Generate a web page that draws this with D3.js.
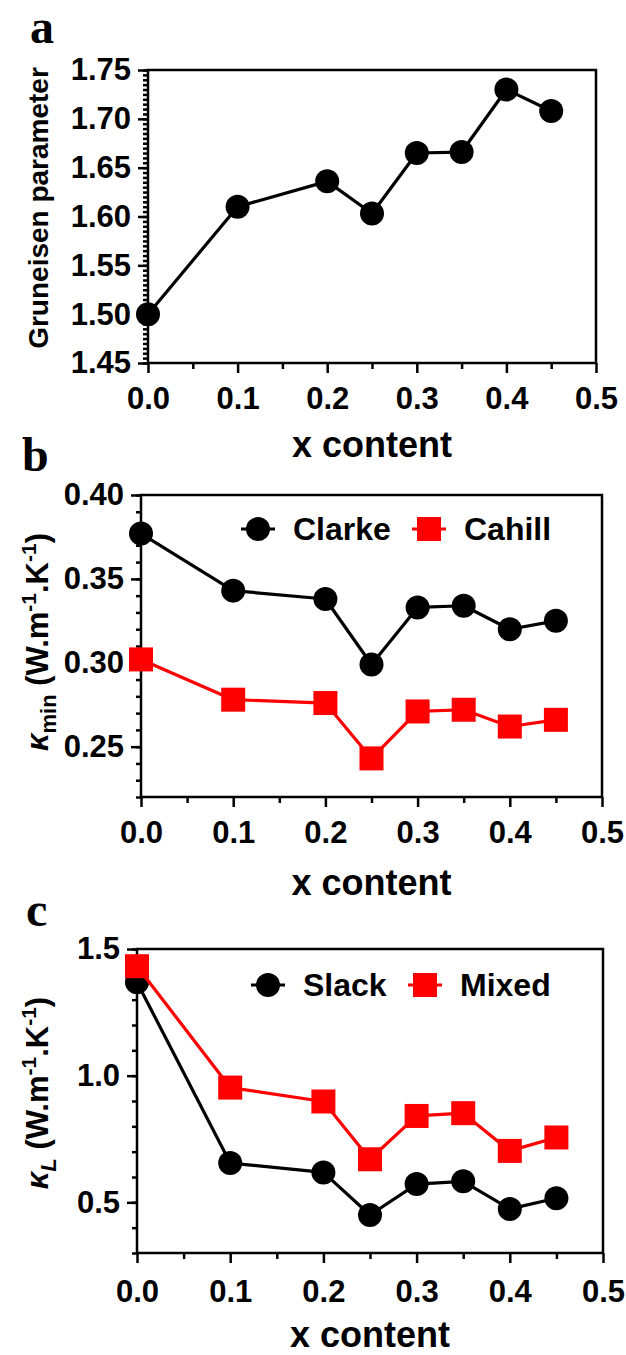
<!DOCTYPE html>
<html>
<head>
<meta charset="utf-8">
<script src="https://cdnjs.cloudflare.com/ajax/libs/d3/7.8.5/d3.min.js"></script>
<style>
  body { margin: 0; background: #fff; }
  text { font-family: "Liberation Sans", Arial, sans-serif; font-weight: bold; fill: #000; }
</style>
</head>
<body>
<script>
// values
const xContent = [0, 0.1, 0.2, 0.25, 0.3, 0.35, 0.4, 0.45];
const gruneisen = [1.500, 1.610, 1.636, 1.603, 1.665, 1.666, 1.730, 1.708];
const clarke = [0.377, 0.343, 0.338, 0.299, 0.333, 0.334, 0.320, 0.325];
const cahill = [0.302, 0.278, 0.276, 0.243, 0.271, 0.272, 0.262, 0.266];
const slack = [1.369, 0.655, 0.618, 0.450, 0.572, 0.583, 0.474, 0.516];
const mixed = [1.432, 0.953, 0.898, 0.670, 0.841, 0.852, 0.703, 0.756];

const xTicks = [0, 0.1, 0.2, 0.3, 0.4, 0.5];
const xMinorTicks = [0.05, 0.15, 0.25, 0.35, 0.45];
const yTicksA = [1.45, 1.50, 1.55, 1.60, 1.65, 1.70, 1.75];
const yTicksB = [0.25, 0.30, 0.35, 0.40];
const yTicksC = [0.5, 1.0, 1.5];

const W = 626, H = 1355;
const svg = d3.select("body").append("svg")
    .attr("width", W).attr("height", H);

// minor tick positions between lo and hi
function steps(lo, hi, step) {
    const n = Math.round((hi - lo) / step);
    return d3.range(n + 1).map(i => +(lo + i * step).toFixed(4));
}

const panels = [
    {
        letter: "a", letterX: 30, letterY: 43,
        L: 148, R: 596, T: 70, B: 363,
        yDomain: [1.45, 1.75], yTicks: yTicksA, yMinor: steps(1.45, 1.75, 0.005), fmt: ".2f",
        series: [{ name: "", values: gruneisen, color: "#000", shape: "circle" }],
        legend: null,
        xLabelY: 409, xTitleY: 457,
        yTitle: "gruneisen", yTitleX: 48, yTitleY: 208
    },
    {
        letter: "b", letterX: 22, letterY: 471,
        L: 141, R: 602, T: 495, B: 797,
        yDomain: [0.22, 0.40], yTicks: yTicksB, yMinor: steps(0.22, 0.40, 0.01), fmt: ".2f",
        series: [
            { name: "Clarke", values: clarke, color: "#000", shape: "circle" },
            { name: "Cahill", values: cahill, color: "#ff0000", shape: "square" }
        ],
        legend: { y: 529, items: [258, 429] },
        xLabelY: 843, xTitleY: 895,
        yTitle: "kmin", yTitleX: 48, yTitleY: 642
    },
    {
        letter: "c", letterX: 26, letterY: 926,
        L: 137, R: 603, T: 949, B: 1253,
        yDomain: [0.3, 1.5], yTicks: yTicksC, yMinor: steps(0.3, 1.5, 0.1), fmt: ".1f",
        series: [
            { name: "Slack", values: slack, color: "#000", shape: "circle" },
            { name: "Mixed", values: mixed, color: "#ff0000", shape: "square" }
        ],
        legend: { y: 985, items: [268, 425] },
        xLabelY: 1302, xTitleY: 1347,
        yTitle: "kL", yTitleX: 48, yTitleY: 1093
    }
];

const R_DOT = 12, SQ = 24;

function marker(g, shape, color, cx, cy) {
    if (shape === "circle") {
        g.append("circle").attr("cx", cx).attr("cy", cy).attr("r", R_DOT).attr("fill", color);
    } else {
        g.append("rect").attr("x", cx - SQ / 2).attr("y", cy - SQ / 2)
            .attr("width", SQ).attr("height", SQ).attr("fill", color);
    }
}

panels.forEach(p => {
    const g = svg.append("g");
    const x = d3.scaleLinear().domain([0, 0.5]).range([p.L, p.R]);
    const y = d3.scaleLinear().domain(p.yDomain).range([p.B, p.T]);

    // panel letter
    g.append("text").attr("x", p.letterX).attr("y", p.letterY)
        .style("font-family", "'Liberation Serif', 'Times New Roman', serif")
        .style("font-size", "48px")
        .text(p.letter);

    // minor ticks
    g.append("g").attr("transform", `translate(${p.L},0)`)
        .call(d3.axisLeft(y).tickValues(p.yMinor).tickSize(5).tickSizeOuter(0).tickFormat(""))
        .call(a => a.select(".domain").remove());
    g.append("g").attr("transform", `translate(0,${p.B})`)
        .call(d3.axisBottom(x).tickValues(xMinorTicks).tickSize(6).tickSizeOuter(0).tickFormat(""))
        .call(a => a.select(".domain").remove());

    // major ticks + labels
    const ya = g.append("g").attr("transform", `translate(${p.L},0)`)
        .call(d3.axisLeft(y).tickValues(p.yTicks).tickSize(10).tickSizeOuter(0)
            .tickPadding(7).tickFormat(d3.format(p.fmt)));
    ya.select(".domain").remove();
    ya.selectAll("text").style("font-size", "31px").style("font-family", null);

    const xa = g.append("g").attr("transform", `translate(0,${p.B})`)
        .call(d3.axisBottom(x).tickValues(xTicks).tickSize(10).tickSizeOuter(0)
            .tickFormat(d3.format(".1f")));
    xa.select(".domain").remove();
    xa.selectAll("text").style("font-size", "31px").style("font-family", null)
        .attr("dy", null).attr("y", p.xLabelY - p.B);

    g.selectAll(".tick line").attr("stroke", "#000").attr("stroke-width", 2.5);

    // frame
    g.append("path")
        .attr("d", `M${p.L},${p.T}H${p.R}V${p.B}H${p.L}Z`)
        .attr("fill", "none").attr("stroke", "#000").attr("stroke-width", 2.5);

    // axis titles
    g.append("text").attr("x", (p.L + p.R) / 2).attr("y", p.xTitleY)
        .attr("text-anchor", "middle").style("font-size", "36px").text("x content");

    const yt = g.append("text")
        .attr("transform", `translate(${p.yTitleX},${p.yTitleY}) rotate(-90)`)
        .attr("text-anchor", "middle").style("font-size", "28px");
    if (p.yTitle === "gruneisen") {
        yt.text("Gruneisen parameter");
    } else {
        yt.style("font-size", "31px");
        yt.append("tspan").style("font-style", "italic").text("κ");
        if (p.yTitle === "kmin") {
            yt.append("tspan").attr("dy", 8).style("font-size", "22px").text("min");
        } else {
            yt.append("tspan").attr("dy", 8).style("font-size", "22px").style("font-style", "italic").text("L");
        }
        yt.append("tspan").attr("dy", -8).text(" (W.m");
        yt.append("tspan").attr("dy", -12).style("font-size", "21px").text("-1");
        yt.append("tspan").attr("dy", 12).text(".K");
        yt.append("tspan").attr("dy", -12).style("font-size", "21px").text("-1");
        yt.append("tspan").attr("dy", 12).text(")");
    }

    // series
    const line = d3.line().x((d, i) => x(xContent[i])).y(d => y(d));
    p.series.forEach(s => {
        g.append("path").datum(s.values)
            .attr("d", line)
            .attr("fill", "none").attr("stroke", s.color)
            .attr("stroke-width", 3.2).attr("stroke-linejoin", "round");
        const mg = g.append("g");
        s.values.forEach((v, i) => marker(mg, s.shape, s.color, x(xContent[i]), y(v)));
    });

    // legend
    if (p.legend) {
        p.series.forEach((s, k) => {
            const cx = p.legend.items[k], cy = p.legend.y;
            g.append("line").attr("x1", cx - 17).attr("x2", cx + 17)
                .attr("y1", cy).attr("y2", cy)
                .attr("stroke", s.color).attr("stroke-width", 3.2);
            marker(g, s.shape, s.color, cx, cy);
            g.append("text").attr("x", cx + 35).attr("y", cy + 11)
                .style("font-size", "32px").text(s.name);
        });
    }
});
</script>
</body>
</html>
